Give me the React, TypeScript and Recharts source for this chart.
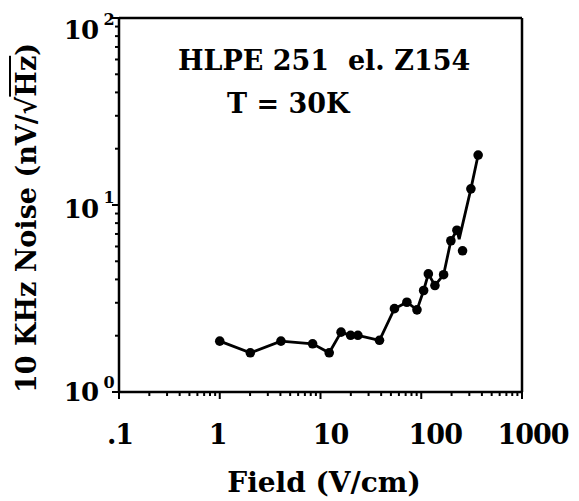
import React from "react";
import {
  ScatterChart,
  Scatter,
  XAxis,
  YAxis,
  ReferenceLine,
} from "recharts";

// measured points (field V/cm, noise nV/rtHz)
const fieldVals = [1.0, 2.01, 4.05, 8.35, 12.2, 16.0, 19.9, 23.5, 38.5, 54.2, 72, 90.7, 105.6, 117.6, 136.7, 166.7, 196.8, 226, 257, 311, 367];
const noiseVals = [1.87, 1.62, 1.87, 1.81, 1.62, 2.09, 2.01, 2.01, 1.89, 2.79, 3.02, 2.75, 3.49, 4.28, 3.71, 4.24, 6.44, 7.33, 5.69, 12.2, 18.5];

// hand drawn trace through the points
const traceField = [1.0, 2.01, 4.05, 8.35, 12.2, 16.0, 19.9, 23.5, 38.5, 54.2, 72, 90.7, 105.6, 117.6, 136.7, 166.7, 196.8, 226, 238, 311, 367];
const traceNoise = [1.87, 1.62, 1.87, 1.81, 1.62, 2.09, 2.01, 2.01, 1.89, 2.79, 3.02, 2.75, 3.49, 4.28, 3.71, 4.24, 6.44, 7.33, 6.57, 12.2, 18.5];

const xMajor = [0.1, 1, 10, 100, 1000];
const xMajorLabels = [".1", "1", "10", "100", "1000"];
const yMajor = [1, 10, 100];
const yExponents = ["0", "1", "2"];
const minorSteps = [2, 3, 4, 5, 6, 7, 8, 9];

const xTicks = [
  ...xMajor,
  ...xMajor.slice(0, -1).flatMap((d) => minorSteps.map((m) => d * m)),
];
const yTicks = [
  ...yMajor,
  ...yMajor.slice(0, -1).flatMap((d) => minorSteps.map((m) => d * m)),
];

const points = fieldVals.map((f, i) => ({ field: f, noise: noiseVals[i] }));
const trace = traceField.map((f, i) => ({ field: f, noise: traceNoise[i] }));

const FONT = "'DejaVu Serif', serif";

// label nudges, as placed in the original figure
const xLabelDx = [1, -2, 10, 14, 11];
const yBaseDy = [9, 13, 21];
const ySupDy = [-4, -2, 7];

const findMajor = (v: number, majors: number[]) =>
  majors.findIndex((m) => Math.abs(m - v) / m < 1e-6);

const XTick = (props: any) => {
  const { x, y, payload } = props;
  const idx = findMajor(payload.value, xMajor);
  const major = idx >= 0;
  return (
    <g>
      <line x1={x} x2={x} y1={y} y2={y + (major ? 7 : 4)} stroke="#000" strokeWidth={2} />
      {major && (
        <text
          x={x + xLabelDx[idx]}
          y={y + 52}
          textAnchor="middle"
          fontFamily={FONT}
          fontWeight="bold"
          fontSize={27}
          letterSpacing={-1}
          fill="#000"
        >
          {xMajorLabels[idx]}
        </text>
      )}
    </g>
  );
};

const YTick = (props: any) => {
  const { x, y, payload } = props;
  const idx = findMajor(payload.value, yMajor);
  const major = idx >= 0;
  return (
    <g>
      <line x1={x} x2={x - (major ? 7 : 4)} y1={y} y2={y} stroke="#000" strokeWidth={2} />
      {major && (
        <text
          x={x - 21}
          y={y + yBaseDy[idx]}
          textAnchor="end"
          fontFamily={FONT}
          fontWeight="bold"
          fontSize={26}
          letterSpacing={-1}
          fill="#000"
        >
          10
        </text>
      )}
      {major && (
        <text
          x={x - 10}
          y={y + ySupDy[idx]}
          textAnchor="middle"
          fontFamily={FONT}
          fontWeight="bold"
          fontSize={16}
          fill="#000"
        >
          {yExponents[idx]}
        </text>
      )}
    </g>
  );
};

const Dot = (props: any) => {
  const { cx, cy } = props;
  if (cx == null || cy == null) return <g />;
  return <circle cx={cx} cy={cy} r={4.8} fill="#000" />;
};

const textStyle: React.CSSProperties = {
  position: "absolute",
  fontFamily: FONT,
  fontWeight: "bold",
  color: "#000",
  whiteSpace: "nowrap",
  lineHeight: 1,
};

export default function App() {
  return (
    <div
      style={{
        position: "absolute",
        left: 0,
        top: 0,
        width: 579,
        height: 501,
        background: "#fff",
      }}
    >
      <ScatterChart
        width={579}
        height={501}
        margin={{ top: 18, right: 57, bottom: 49, left: 19 }}
      >
        <XAxis
          type="number"
          dataKey="field"
          scale="log"
          domain={[0.1, 1000]}
          ticks={xTicks}
          interval={0}
          allowDataOverflow
          height={60}
          tickSize={0}
          tickMargin={0}
          tickLine={false}
          axisLine={{ stroke: "#000", strokeWidth: 2.5 }}
          tick={<XTick />}
        />
        <YAxis
          type="number"
          dataKey="noise"
          scale="log"
          domain={[1, 100]}
          ticks={yTicks}
          interval={0}
          allowDataOverflow
          width={100}
          tickSize={0}
          tickMargin={0}
          tickLine={false}
          axisLine={{ stroke: "#000", strokeWidth: 2.5 }}
          tick={<YTick />}
        />
        <ReferenceLine y={100} stroke="#000" strokeWidth={2.5} />
        <ReferenceLine x={1000} stroke="#000" strokeWidth={2.5} />
        <Scatter
          data={trace}
          line={{ stroke: "#000", strokeWidth: 2.8 }}
          shape={() => <g />}
          isAnimationActive={false}
        />
        <Scatter data={points} shape={<Dot />} isAnimationActive={false} />
      </ScatterChart>

      <div style={{ ...textStyle, left: 178, top: 47, fontSize: 27 }}>
        HLPE 251&nbsp;&nbsp;el. Z154
      </div>
      <div style={{ ...textStyle, left: 227, top: 90, fontSize: 27 }}>
        T = 30K
      </div>
      <div
        style={{
          ...textStyle,
          left: 0,
          top: 0,
          width: 380,
          textAlign: "center",
          fontSize: 27,
          transformOrigin: "0 0",
          transform: "translate(13px, 408px) rotate(-90deg)",
        }}
      >
        10 KHz Noise (nV/√<span style={{ textDecoration: "overline" }}>Hz</span>)
      </div>
      <div
        style={{
          ...textStyle,
          left: 227,
          width: 194,
          top: 469,
          textAlign: "center",
          fontSize: 28,
        }}
      >
        Field (V/cm)
      </div>
    </div>
  );
}
